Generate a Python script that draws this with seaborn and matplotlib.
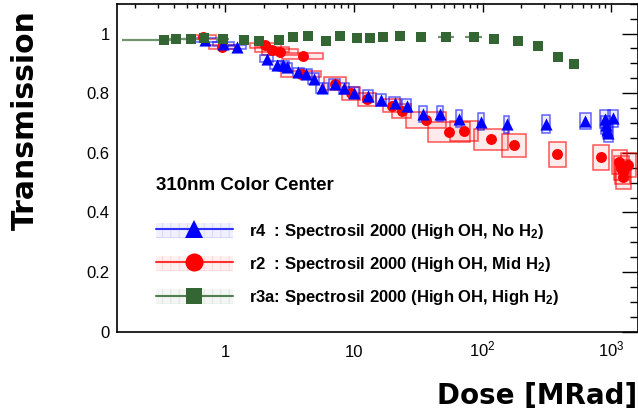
import numpy as np
import pandas as pd
import matplotlib
matplotlib.use("Agg")
import matplotlib.pyplot as plt
import seaborn as sns
from matplotlib.patches import Rectangle
from matplotlib.lines import Line2D
from matplotlib.legend_handler import HandlerTuple
from matplotlib.ticker import FixedLocator, MultipleLocator, NullFormatter

# ---------------- data ----------------
# r4 : Spectrosil 2000 (High OH, No H2)
r4_dose = [0.695, 0.965, 1.23, 2.10, 2.51, 2.83, 3.00, 3.70, 4.27, 4.85, 5.62, 7.07, 8.33, 9.96, 12.9,
           16.2, 20.7, 25.7, 34.6, 46.8, 65.6, 97.3, 154, 312, 632, 897, 1029, 910, 930, 950]
r4_trans = [0.978, 0.966, 0.955, 0.916, 0.894, 0.894, 0.888, 0.871, 0.865, 0.849, 0.818, 0.832, 0.816,
            0.801, 0.790, 0.776, 0.767, 0.758, 0.730, 0.731, 0.714, 0.704, 0.695, 0.698, 0.707, 0.712,
            0.715, 0.693, 0.678, 0.665]
r4_dose_err_dec = [0.09, 0.08, 0.07, 0.05, 0.05, 0.045, 0.045, 0.045, 0.045, 0.045, 0.045, 0.045, 0.04,
                   0.04, 0.04, 0.04, 0.04, 0.035, 0.032, 0.026, 0.023, 0.02, 0.02, 0.028, 0.045, 0.04,
                   0.04, 0.035, 0.035, 0.035]
r4_trans_err = [0.006, 0.007, 0.008, 0.012, 0.013, 0.014, 0.014, 0.015, 0.016, 0.017, 0.017, 0.017, 0.018,
                0.018, 0.019, 0.020, 0.021, 0.022, 0.026, 0.025, 0.028, 0.029, 0.030, 0.030, 0.028, 0.030,
                0.030, 0.030, 0.030, 0.030]

# r2 : Spectrosil 2000 (High OH, Mid H2)
r2_dose = [0.675, 0.94, 2.04, 2.30, 2.66, 4.00, 3.88, 7.13, 9.49, 12.7, 19.7, 23.5, 36.2, 54.6, 72.1,
           116, 176, 382, 835, 1159, 1361, 1231, 1244, 1200]
r2_trans = [0.989, 0.955, 0.961, 0.946, 0.938, 0.924, 0.864, 0.832, 0.799, 0.779, 0.758, 0.740, 0.710,
            0.670, 0.673, 0.645, 0.625, 0.595, 0.585, 0.570, 0.559, 0.536, 0.519, 0.550]
r2_dose_err_dec = [0.10, 0.10, 0.12, 0.13, 0.14, 0.16, 0.155, 0.085, 0.07, 0.07, 0.07, 0.075, 0.155, 0.163,
                   0.11, 0.13, 0.093, 0.067, 0.062, 0.058, 0.058, 0.058, 0.058, 0.058]
r2_trans_err = [0.006, 0.007, 0.008, 0.009, 0.009, 0.009, 0.010, 0.022, 0.021, 0.022, 0.022, 0.024, 0.028,
                0.033, 0.033, 0.036, 0.038, 0.041, 0.042, 0.040, 0.040, 0.040, 0.040, 0.040]

# r3a: Spectrosil 2000 (High OH, High H2)
r3a_dose = [0.336, 0.414, 0.541, 0.683, 0.954, 1.40, 1.83, 2.62, 3.34, 4.37, 6.07, 7.80, 10.5, 13.3,
            16.7, 22.9, 33.2, 52.0, 85.5, 122, 188, 269, 384, 517]
r3a_trans = [0.977, 0.980, 0.980, 0.984, 0.982, 0.977, 0.974, 0.979, 0.987, 0.990, 0.975, 0.990, 0.984,
             0.984, 0.989, 0.990, 0.988, 0.987, 0.987, 0.981, 0.975, 0.958, 0.922, 0.899]
r3a_err_lo_dec = [0.33, 0.12, 0.06, 0.03, 0.05, 0.03, 0.03, 0.03, 0.03, 0.03, 0.03, 0.03, 0.03, 0.03,
                  0.03, 0.03, 0.03, 0.065, 0.065, 0.03, 0.03, 0.03, 0.03, 0.03]
r3a_err_hi_dec = [0.05, 0.08, 0.06, 0.03, 0.05, 0.03, 0.03, 0.03, 0.03, 0.03, 0.03, 0.03, 0.03, 0.03,
                  0.03, 0.03, 0.03, 0.065, 0.065, 0.03, 0.03, 0.03, 0.03, 0.03]

series_labels = {
    "r4": r"r4  : Spectrosil 2000 (High OH, No H$_{\mathbf{2}}$)",
    "r2": r"r2  : Spectrosil 2000 (High OH, Mid H$_{\mathbf{2}}$)",
    "r3a": r"r3a: Spectrosil 2000 (High OH, High H$_{\mathbf{2}}$)",
}
legend_title = "310nm Color Center"
x_ticks = [1, 10, 100, 1000]
x_ticklabels = ["1", "10", r"$10^{2}$", r"$10^{3}$"]
y_ticks = [0, 0.2, 0.4, 0.6, 0.8, 1.0]
y_ticklabels = ["0", "0.2", "0.4", "0.6", "0.8", "1"]

# ---------------- style ----------------
sns.set_theme(style="white")
plt.rcParams["font.family"] = ["Liberation Sans", "DejaVu Sans"]
plt.rcParams["mathtext.fontset"] = "custom"
plt.rcParams["mathtext.rm"] = "Liberation Sans"
plt.rcParams["mathtext.bf"] = "Liberation Sans:bold"
plt.rcParams["mathtext.it"] = "Liberation Sans:italic"
plt.rcParams["hatch.linewidth"] = 0.6
plt.rcParams["text.color"] = "black"
plt.rcParams["axes.labelcolor"] = "black"
plt.rcParams["xtick.color"] = "black"
plt.rcParams["ytick.color"] = "black"

BLUE = "#0000ff"
RED = "#ff0000"
GREEN = "#336633"

fig = plt.figure(figsize=(6.38, 4.11), dpi=100)
ax = fig.add_axes([116.7 / 638, (411 - 331.7) / 411, (637.5 - 116.7) / 638, (331.7 - 3.7) / 411])
ax.set_xscale("log")
ax.set_xlim(0.143, 1604)
ax.set_ylim(0, 1.1)

# error boxes
def draw_boxes(xs, ys, dxd, dys, col, face):
    for x, y, d, e in zip(xs, ys, dxd, dys):
        x0 = x * 10 ** (-d)
        x1 = x * 10 ** d
        ax.add_patch(Rectangle((x0, y - e), x1 - x0, 2 * e, facecolor=face, edgecolor="none",
                               zorder=1.5))
        ax.add_patch(Rectangle((x0, y - e), x1 - x0, 2 * e, facecolor="none", edgecolor=col,
                               lw=1.1, zorder=1.6))

draw_boxes(r2_dose, r2_trans, r2_dose_err_dec, r2_trans_err, (1, 0, 0, 0.65), (1, 0, 0, 0.08))
draw_boxes(r4_dose, r4_trans, r4_dose_err_dec, r4_trans_err, (0, 0, 1, 0.6), (0, 0, 1, 0.07))

# green horizontal error bars
gx = np.array(r3a_dose)
g_lo = gx - gx * 10 ** (-np.array(r3a_err_lo_dec))
g_hi = gx * 10 ** np.array(r3a_err_hi_dec) - gx
ax.errorbar(gx, r3a_trans, xerr=[g_lo, g_hi], fmt="none", ecolor="#6f946f", elinewidth=1.6,
            capsize=0, zorder=2)

df = pd.concat([
    pd.DataFrame({"dose": r2_dose, "trans": r2_trans, "series": "r2"}),
    pd.DataFrame({"dose": r4_dose, "trans": r4_trans, "series": "r4"}),
    pd.DataFrame({"dose": r3a_dose, "trans": r3a_trans, "series": "r3a"}),
], ignore_index=True)

for name, col, mk, size in [("r2", RED, "o", 62), ("r4", BLUE, "^", 76), ("r3a", GREEN, "s", 48)]:
    sns.scatterplot(data=df[df.series == name], x="dose", y="trans", color=col, marker=mk, s=size,
                    linewidth=0, legend=False, ax=ax, zorder=3)

# axes / ticks
ax.xaxis.set_major_locator(FixedLocator(x_ticks))
ax.set_xticklabels(x_ticklabels)
minor = [m * 10.0 ** e for e in range(-1, 4) for m in range(2, 10)]
ax.xaxis.set_minor_locator(FixedLocator(minor))
ax.xaxis.set_minor_formatter(NullFormatter())
ax.yaxis.set_major_locator(FixedLocator(y_ticks))
ax.set_yticklabels(y_ticklabels)
ax.yaxis.set_minor_locator(MultipleLocator(0.05))

ax.tick_params(which="both", direction="in", top=True, right=True, colors="black",
               labelcolor="black", labelsize=12, width=1.0)
ax.xaxis.set_tick_params(which="major", length=6, pad=18)
ax.xaxis.set_tick_params(which="minor", length=3.2)
ax.yaxis.set_tick_params(which="major", length=11.5, pad=5)
ax.yaxis.set_tick_params(which="minor", length=5.8)
for lab in ax.get_xticklabels():
    lab.set_verticalalignment("baseline")
for sp in ax.spines.values():
    sp.set_color("black")
    sp.set_linewidth(1.2)
ax.grid(False)

ax.set_xlabel("Dose [MRad]", fontsize=20, fontweight="bold", family="DejaVu Sans",
              ha="right", va="baseline", color="black")
ax.xaxis.set_label_coords(1.0, -0.22)
ax.set_ylabel("Transmission", fontsize=21.5, fontweight="bold", family="DejaVu Sans",
              ha="center", va="center", color="black")
ax.yaxis.set_label_coords(-0.176, 0.645)

# legend
def handle(col, linecol, mk, ms):
    patch = Rectangle((0, 0), 1, 1, facecolor=(*matplotlib.colors.to_rgb(col), 0.06),
                      edgecolor=(*matplotlib.colors.to_rgb(col), 0.12), hatch="++", lw=0)
    line = Line2D([], [], color=linecol, lw=1.5, marker=mk, markersize=ms,
                  markerfacecolor=col, markeredgewidth=0)
    return (patch, line)

handles = [handle(BLUE, "#3030ff", "^", 13), handle(RED, "#ff3030", "o", 13),
           handle(GREEN, "#4f7f4f", "s", 12)]
labels = [series_labels["r4"], series_labels["r2"], series_labels["r3a"]]
leg = ax.legend(handles, labels, title=legend_title, loc="upper left",
                bbox_to_anchor=((156 - 116.7) / 520.8, (331.7 - 177) / 328),
                frameon=False, handlelength=4.6, handleheight=1.0, handletextpad=1.0,
                labelspacing=0.85, borderpad=0, borderaxespad=0, alignment="left",
                prop={"weight": "bold", "size": 12},
                title_fontproperties={"weight": "bold", "size": 13.5},
                handler_map={tuple: HandlerTuple(ndivide=1, pad=0)})
leg._legend_box.sep = 20
leg.get_title().set_color("black")
for t in leg.get_texts():
    t.set_color("black")

fig.savefig("out.png", dpi=100)
